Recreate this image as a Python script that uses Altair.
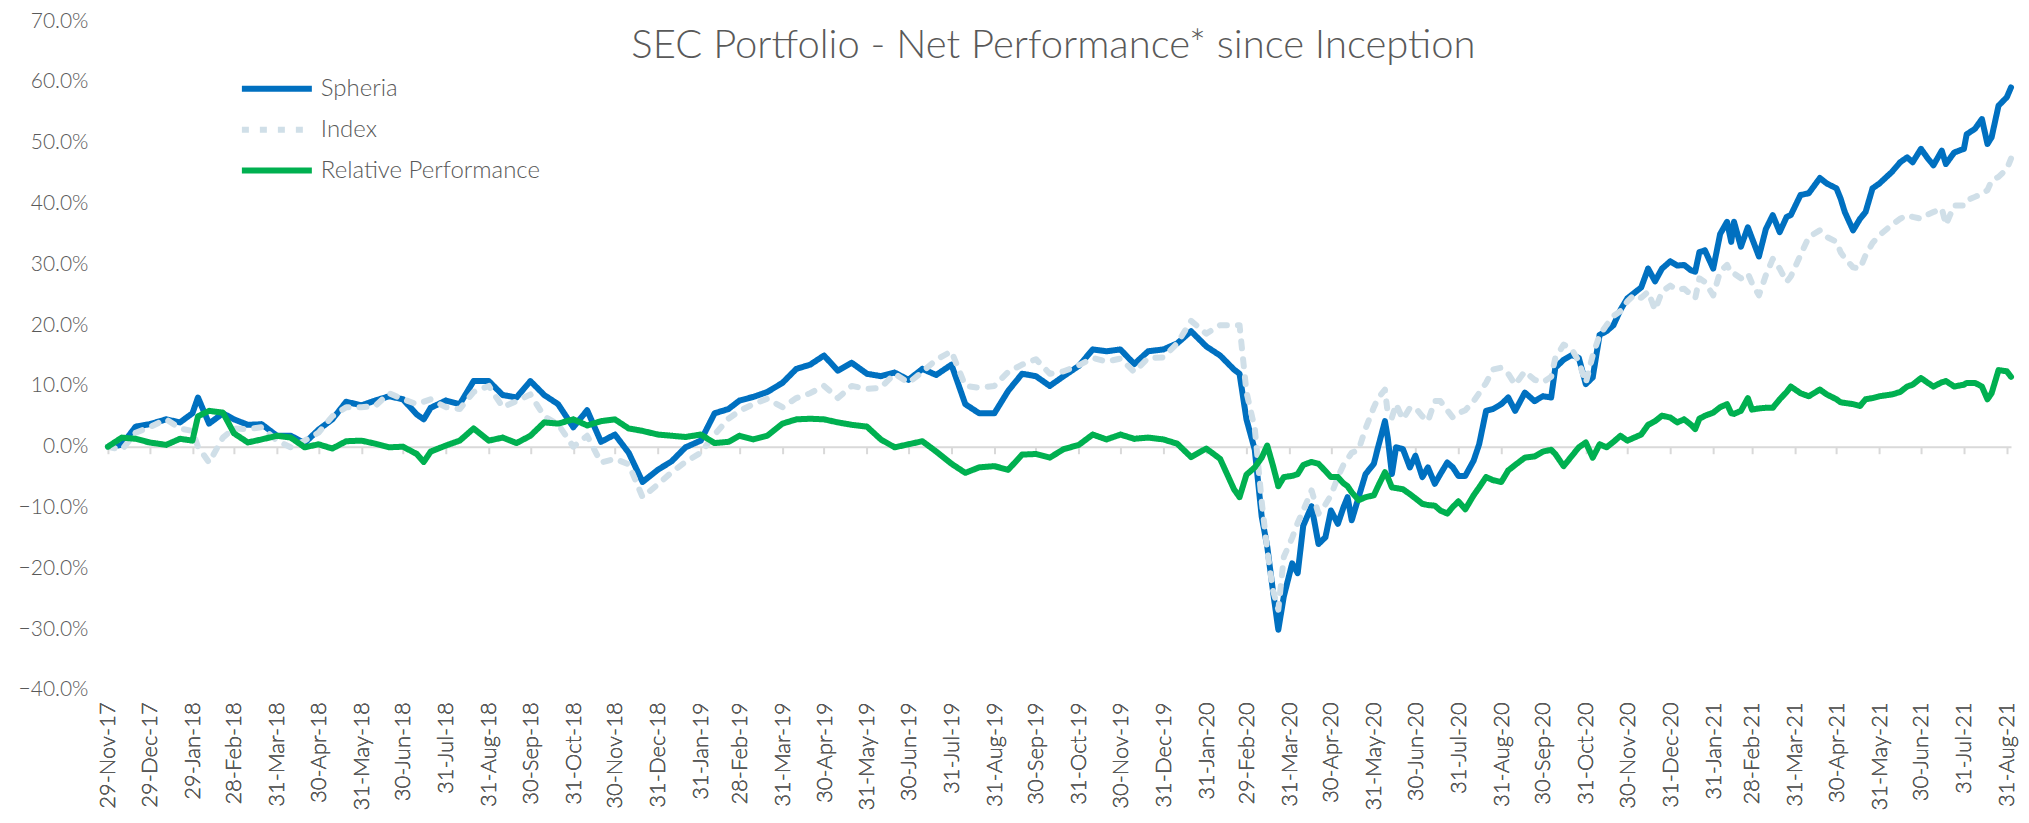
import altair as alt
import pandas as pd

# ---------------- data ----------------
dates = [
    "2017-11-29", "2017-12-09", "2017-12-19", "2017-12-29",
    "2018-01-10", "2018-01-20", "2018-01-29", "2018-02-02", "2018-02-10", "2018-02-20", "2018-02-28",
    "2018-03-10", "2018-03-20", "2018-03-31", "2018-04-10", "2018-04-20", "2018-04-30",
    "2018-05-10", "2018-05-20", "2018-05-31", "2018-06-10", "2018-06-20", "2018-06-30",
    "2018-07-10", "2018-07-15", "2018-07-20", "2018-07-31", "2018-08-10", "2018-08-20", "2018-08-31",
    "2018-09-10", "2018-09-20", "2018-09-30", "2018-10-10", "2018-10-20", "2018-10-31",
    "2018-11-10", "2018-11-20", "2018-11-30", "2018-12-10", "2018-12-20", "2018-12-31",
    "2019-01-10", "2019-01-20", "2019-01-31", "2019-02-10", "2019-02-20", "2019-02-28",
    "2019-03-10", "2019-03-20", "2019-03-31", "2019-04-10", "2019-04-20", "2019-04-30",
    "2019-05-10", "2019-05-20", "2019-05-31", "2019-06-10", "2019-06-20", "2019-06-30",
    "2019-07-10", "2019-07-20", "2019-07-31", "2019-08-10", "2019-08-20", "2019-08-31",
    "2019-09-10", "2019-09-20", "2019-09-30", "2019-10-10", "2019-10-20", "2019-10-31",
    "2019-11-10", "2019-11-20", "2019-11-30", "2019-12-10", "2019-12-20", "2019-12-31",
    "2020-01-10", "2020-01-20", "2020-01-31", "2020-02-10", "2020-02-20", "2020-02-24", "2020-02-29",
    "2020-03-06", "2020-03-11", "2020-03-15", "2020-03-19", "2020-03-23", "2020-03-27",
    "2020-04-02", "2020-04-06", "2020-04-10", "2020-04-16", "2020-04-21", "2020-04-26", "2020-04-30",
    "2020-05-05", "2020-05-09", "2020-05-12", "2020-05-15", "2020-05-20", "2020-05-25", "2020-05-31",
    "2020-06-03", "2020-06-08", "2020-06-10", "2020-06-13", "2020-06-16", "2020-06-21", "2020-06-26", "2020-06-30",
    "2020-07-05", "2020-07-09", "2020-07-14", "2020-07-18", "2020-07-23", "2020-07-27", "2020-07-31",
    "2020-08-05", "2020-08-11", "2020-08-15", "2020-08-20", "2020-08-25", "2020-08-31",
    "2020-09-05", "2020-09-10", "2020-09-17", "2020-09-24", "2020-09-30",
    "2020-10-06", "2020-10-09", "2020-10-15", "2020-10-21", "2020-10-26", "2020-10-31",
    "2020-11-05", "2020-11-10", "2020-11-15", "2020-11-20", "2020-11-25", "2020-11-30",
    "2020-12-05", "2020-12-10", "2020-12-15", "2020-12-20", "2020-12-25", "2020-12-31",
    "2021-01-05", "2021-01-10", "2021-01-15", "2021-01-18", "2021-01-21", "2021-01-25", "2021-01-31",
    "2021-02-05", "2021-02-10", "2021-02-13", "2021-02-15", "2021-02-20", "2021-02-25", "2021-02-28",
    "2021-03-05", "2021-03-10", "2021-03-15", "2021-03-20", "2021-03-25", "2021-03-28",
    "2021-04-04", "2021-04-10", "2021-04-18", "2021-04-23", "2021-04-30",
    "2021-05-03", "2021-05-06", "2021-05-12", "2021-05-17", "2021-05-21", "2021-05-26", "2021-05-31",
    "2021-06-09", "2021-06-15", "2021-06-20", "2021-06-24", "2021-06-30",
    "2021-07-05", "2021-07-09", "2021-07-15", "2021-07-18", "2021-07-24", "2021-07-31",
    "2021-08-02", "2021-08-08", "2021-08-13", "2021-08-17", "2021-08-20", "2021-08-25", "2021-08-31",
    "2021-09-03",
]

spheria = [
    0.0, 0.3, 3.3, 3.7,
    4.5, 4.0, 5.5, 8.1, 3.8, 5.5, 4.5,
    3.6, 3.7, 1.8, 1.8, 0.6, 2.8,
    4.5, 7.4, 6.8, 7.6, 8.3, 7.8,
    5.3, 4.5, 6.4, 7.6, 7.0, 10.8, 10.8,
    8.5, 8.1, 10.8, 8.5, 7.0, 3.2,
    6.0, 0.8, 2.0, -1.0, -5.8, -3.8,
    -2.4, -0.1, 1.0, 5.5, 6.2, 7.6,
    8.2, 9.0, 10.5, 12.8, 13.5, 15.0,
    12.5, 13.8, 12.0, 11.6, 12.2, 11.0,
    12.8, 11.8, 13.5, 7.0, 5.5, 5.5,
    9.2, 12.0, 11.6, 10.0, 11.6, 13.3,
    16.0, 15.7, 16.0, 13.6, 15.7, 16.0,
    17.0, 19.0, 16.5, 15.0, 12.7, 12.0, 4.5,
    -0.5, -11.5, -16.4, -23.5, -30.1, -24.6,
    -19.2, -20.8, -13.0, -9.8, -16.0, -14.9, -10.5,
    -12.7, -10.0, -8.3, -12.1, -8.3, -4.5, -2.8,
    -0.1, 4.2, 1.5, -4.5, -0.1, -0.4, -3.4, -1.5,
    -5.0, -3.4, -6.1, -4.5, -2.6, -3.4, -4.8,
    -4.8, -2.3, 0.4, 5.9, 6.2, 7.0,
    8.1, 5.9, 8.9, 7.5, 8.3,
    8.1, 13.0, 14.3, 15.1, 14.6, 10.3,
    11.4, 18.4, 19.0, 20.0, 22.5, 24.4,
    25.3, 26.2, 29.3, 27.2, 29.3, 30.5,
    29.8, 29.9, 29.0, 28.8, 32.0, 32.3, 29.3,
    35.0, 37.0, 33.7, 37.0, 32.9, 36.1, 34.3,
    31.3, 35.8, 38.1, 35.3, 37.8, 38.1,
    41.4, 41.7, 44.2, 43.3, 42.5,
    40.8, 38.6, 35.6, 37.5, 38.6, 42.5, 43.3,
    45.2, 46.8, 47.6, 46.8, 49.0,
    47.4, 46.3, 48.7, 46.5, 48.4, 49.0,
    51.4, 52.3, 53.9, 49.8, 50.9, 56.1, 57.5,
    59.1,
]

index_ = [
    0.0, -0.5, 2.3, 3.2,
    4.5, 3.0, 2.6, 0.0, -2.6, 1.5, 3.0,
    2.9, 3.2, 1.0, -0.1, 1.0, 2.3,
    5.0, 6.5, 6.5, 6.7, 8.8, 7.8,
    7.0, 7.4, 7.8, 6.5, 6.2, 9.0, 10.0,
    6.5, 7.5, 8.6, 5.0, 3.7, 0.0,
    1.8, -2.6, -2.0, -2.9, -8.3, -6.2,
    -4.2, -2.5, -1.0, 2.0, 4.6, 5.9,
    7.0, 7.9, 6.5, 8.0, 8.8, 10.0,
    8.0, 10.0, 9.5, 9.7, 12.0, 10.5,
    12.3, 14.3, 15.7, 10.0, 9.7, 10.0,
    12.3, 13.5, 14.4, 12.0, 12.4, 13.4,
    14.6, 14.0, 14.5, 12.3, 14.6, 14.7,
    17.0, 20.7, 18.6, 20.0, 20.0, 20.0, 9.0,
    3.0, -9.0, -17.0, -23.5, -26.8, -18.1,
    -15.0, -12.5, -10.5, -7.2, -11.0, -9.5, -8.0,
    -5.0, -3.0, -2.0, -1.0, -0.5, 3.0, 6.5,
    8.0, 9.4, 5.5, 4.8, 7.0, 4.5, 6.4, 6.4,
    5.0, 4.2, 7.5, 7.5, 6.0, 4.8, 5.5,
    6.0, 7.5, 8.8, 10.5, 12.7, 13.0,
    12.0, 10.2, 12.4, 11.0, 10.6,
    11.5, 14.6, 16.8, 16.0, 14.0, 10.5,
    15.0, 18.4, 20.0, 21.5, 22.3, 23.9,
    25.0, 24.5, 25.5, 22.5, 25.5, 26.5,
    25.8, 26.0, 25.0, 24.4, 27.7, 27.1, 24.9,
    28.8, 29.9, 28.5, 28.5, 27.7, 28.5, 26.9,
    24.9, 28.2, 30.9, 29.3, 27.1, 28.0,
    31.5, 34.5, 35.6, 34.5, 33.7,
    32.0, 31.0, 29.5, 29.3, 31.5, 33.5, 34.8,
    36.5, 37.5, 38.1, 37.8, 37.5,
    38.2, 38.6, 39.2, 36.5, 39.7, 39.7,
    40.5, 41.1, 41.6, 42.2, 43.8, 44.4, 45.7,
    47.4,
]

relative = [
    0.0, 1.5, 1.3, 0.7,
    0.3, 1.3, 1.0, 5.0, 5.9, 5.6, 2.2,
    0.7, 1.2, 1.8, 1.5, -0.1, 0.4,
    -0.3, 0.9, 1.0, 0.5, -0.1, 0.0,
    -1.2, -2.5, -0.8, 0.2, 1.0, 3.0, 1.0,
    1.5, 0.6, 1.8, 4.0, 3.8, 4.5,
    3.5, 4.2, 4.5, 3.0, 2.6, 2.0,
    1.8, 1.6, 2.0, 0.6, 0.8, 1.8,
    1.2, 1.8, 3.8, 4.5, 4.6, 4.5,
    4.0, 3.6, 3.3, 1.2, -0.1, 0.4,
    0.9, -0.8, -2.8, -4.3, -3.4, -3.2,
    -3.8, -1.3, -1.2, -1.8, -0.4, 0.3,
    2.0, 1.2, 2.0, 1.3, 1.5, 1.2,
    0.5, -1.7, -0.3, -2.0, -7.0, -8.3, -4.6,
    -3.4, -1.8, 0.2, -3.0, -6.5, -5.0,
    -4.8, -4.5, -3.0, -2.5, -2.8, -4.0, -5.0,
    -5.0, -6.0, -6.5, -7.5, -8.8, -8.3, -8.0,
    -6.5, -4.2, -5.0, -6.7, -6.8, -7.0, -7.8, -8.5,
    -9.4, -9.6, -9.7, -10.5, -11.0, -9.9, -9.0,
    -10.3, -8.0, -6.7, -5.0, -5.5, -5.8,
    -3.9, -3.0, -1.8, -1.6, -0.8,
    -0.5, -1.2, -3.2, -1.5, -0.1, 0.7,
    -1.8, 0.4, -0.1, 0.8, 1.8, 1.0,
    1.5, 2.0, 3.6, 4.2, 5.1, 4.8,
    4.0, 4.5, 3.6, 2.9, 4.6, 5.1, 5.6,
    6.5, 7.0, 5.5, 5.4, 5.9, 8.0, 6.1,
    6.3, 6.4, 6.4, 7.8, 9.0, 9.9,
    8.8, 8.3, 9.4, 8.6, 7.8,
    7.3, 7.2, 7.0, 6.7, 7.8, 8.0, 8.3,
    8.6, 9.0, 9.9, 10.2, 11.3,
    10.5, 9.9, 10.6, 10.8, 9.9, 10.2,
    10.5, 10.5, 9.9, 7.8, 8.8, 12.6, 12.4,
    11.5,
]

assert len(dates) == len(spheria) == len(index_) == len(relative)

tick_dates = [
    "2017-11-29", "2017-12-29", "2018-01-29", "2018-02-28", "2018-03-31", "2018-04-30",
    "2018-05-31", "2018-06-30", "2018-07-31", "2018-08-31", "2018-09-30", "2018-10-31",
    "2018-11-30", "2018-12-31", "2019-01-31", "2019-02-28", "2019-03-31", "2019-04-30",
    "2019-05-31", "2019-06-30", "2019-07-31", "2019-08-31", "2019-09-30", "2019-10-31",
    "2019-11-30", "2019-12-31", "2020-01-31", "2020-02-29", "2020-03-31", "2020-04-30",
    "2020-05-31", "2020-06-30", "2020-07-31", "2020-08-31", "2020-09-30", "2020-10-31",
    "2020-11-30", "2020-12-31", "2021-01-31", "2021-02-28", "2021-03-31", "2021-04-30",
    "2021-05-31", "2021-06-30", "2021-07-31", "2021-08-31",
]
x_domain = ["2017-11-29", "2021-09-03"]
y_ticks = [70, 60, 50, 40, 30, 20, 10, 0, -10, -20, -30, -40]
y_domain = [-40, 70]

series_names = ["Spheria", "Index", "Relative Performance"]
series_colors = ["#0070C0", "#D0DFE8", "#00B050"]
series_dash = [[1, 0], [7, 11], [1, 0]]
title_text = "SEC Portfolio - Net Performance* since Inception"

# ---------------- layout / style ----------------
FONT = "Lato"
WEIGHT = 300
TEXT = "#595959"
W, H = 1904, 669
PAD_TOP = 13


def dt(s):
    y, m, d = (int(p) for p in s.split("-"))
    return alt.DateTime(year=y, month=m, date=d, utc=True)


df = pd.DataFrame({"date": dates, "Spheria": spheria, "Index": index_,
                   "Relative Performance": relative})
long = df.melt("date", var_name="series", value_name="value")

xscale = alt.Scale(type="utc", domain=[dt(s) for s in x_domain])
yscale = alt.Scale(domain=y_domain, nice=False, zero=False)
color_scale = alt.Scale(domain=series_names, range=series_colors)
dash_scale = alt.Scale(domain=series_names, range=series_dash)

label_axis = alt.Axis(
    orient="bottom",
    values=[dt(s) for s in tick_dates],
    labelExpr="utcFormat(datum.value, '%d-%b-%y')",
    labelAngle=270, labelAlign="right", labelBaseline="middle",
    labelFont=FONT, labelFontWeight=WEIGHT, labelFontSize=22, labelColor=TEXT,
    labelPadding=12, labelOverlap=False, labelFlush=False, labelBound=False,
    domain=False, ticks=False, grid=False, title=None,
)

zero_offset = -H * (0 - y_domain[0]) / (y_domain[1] - y_domain[0])
zero_axis = alt.Axis(
    orient="bottom",
    values=[dt(s) for s in tick_dates], labels=False, grid=False, title=None,
    domainColor="#D9D9D9", domainWidth=2, tickColor="#D9D9D9", tickWidth=2,
    tickSize=7, offset=zero_offset,
)

y_axis = alt.Axis(
    values=y_ticks, labelExpr="format(datum.value, '.1f') + '%'",
    labelFont=FONT, labelFontWeight=WEIGHT, labelFontSize=21, labelColor=TEXT,
    labelPadding=20, domain=False, ticks=False, grid=False, title=None,
)

legend = alt.Legend(
    orient="none", legendX=131, legendY=47, title=None, padding=0,
    symbolType="stroke", symbolSize=4900, symbolStrokeWidth=6,
    labelFont=FONT, labelFontWeight=WEIGHT, labelFontSize=24, labelColor=TEXT,
    labelOffset=6, labelLimit=0, clipHeight=41, rowPadding=0,
)

zero_layer = alt.Chart(pd.DataFrame({"date": tick_dates})).mark_point(opacity=0).encode(
    x=alt.X("date:T", scale=xscale, axis=zero_axis)
)


def series_layer(name, with_legend):
    return alt.Chart(long).transform_filter(alt.datum.series == name).mark_line(
        strokeWidth=6, strokeCap="round", strokeJoin="round"
    ).encode(
        x=alt.X("date:T", scale=xscale, axis=label_axis),
        y=alt.Y("value:Q", scale=yscale, axis=y_axis),
        color=alt.Color("series:N", scale=color_scale, legend=legend if with_legend else None),
        strokeDash=alt.StrokeDash("series:N", scale=dash_scale, legend=legend if with_legend else None),
    )


title_layer = alt.Chart(pd.DataFrame({"t": [title_text]})).mark_text(
    font=FONT, fontWeight=WEIGHT, fontSize=40, color=TEXT, align="center", baseline="middle"
).encode(text="t:N", x=alt.value(946), y=alt.value(25))

chart = alt.layer(
    zero_layer,
    series_layer("Spheria", True),
    series_layer("Index", False),
    series_layer("Relative Performance", False),
    title_layer,
).resolve_axis(x="independent").properties(
    width=W, height=H,
    autosize=alt.AutoSizeParams(type="none"),
    padding={"left": 100, "top": PAD_TOP, "right": 10, "bottom": 125},
    background="white",
).configure_view(stroke=None)

chart.save("out.html", embed_options={"renderer": "svg", "actions": False})
